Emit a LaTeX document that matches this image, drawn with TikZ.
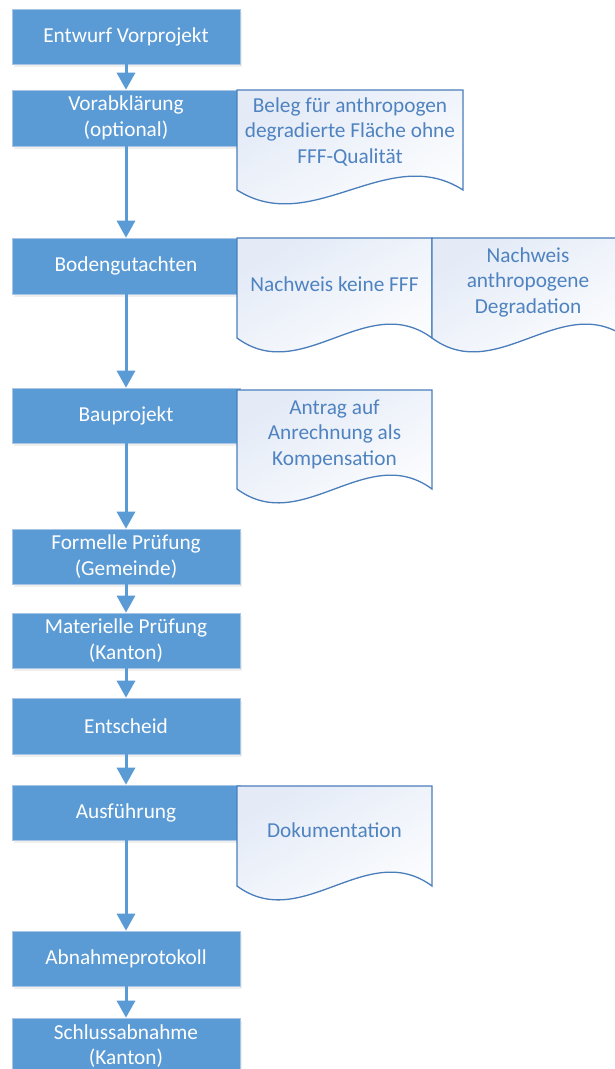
\documentclass[tikz,border=0pt]{standalone}
\usepackage{fontspec}
\setmainfont{Carlito}
\usetikzlibrary{arrows.meta,shadows}
\definecolor{boxblue}{HTML}{5B9BD5}
\definecolor{boxedge}{HTML}{A9C5E5}
\definecolor{docedge}{HTML}{4A7EBB}
\definecolor{doctxt}{HTML}{4F83C0}
\definecolor{docfill}{HTML}{E4EBF7}
\begin{document}
\begin{tikzpicture}[x=1pt,y=-1pt,
  procbox/.style={rectangle, fill=boxblue, draw=boxedge, line width=0.6pt,
    minimum width=228pt, minimum height=55pt, text=white, align=center,
    font=\fontsize{21.3}{25.5}\selectfont, inner sep=0pt,
    drop shadow={opacity=0.12, shadow xshift=1.5pt, shadow yshift=-2.5pt}},
  doclabel/.style={text=doctxt, align=center, font=\fontsize{21.3}{25.5}\selectfont, inner sep=0pt},
  docshape/.style={draw=docedge, line width=1.3pt, top color=docfill, bottom color=white, shading angle=30},
  flow/.style={draw=boxblue, line width=3pt, -{Triangle[width=18pt,length=17pt]}}
]
\useasboundingbox (0,0) rectangle (615,1069);
\clip (0,0) rectangle (615,1069);
\fill[white] (0,0) rectangle (615,1069);

% process boxes
\node[procbox] (b1) at (126,36.5) {Entwurf Vorprojekt};
\node[procbox, minimum height=56pt] (b2) at (126,118) {Vorabklärung\\(optional)};
\node[procbox, minimum height=56pt] (b3) at (126,266) {Bodengutachten};
\node[procbox] (b4) at (126,415.5) {Bauprojekt};
\node[procbox] (b5) at (126,556.5) {Formelle Prüfung\\(Gemeinde)};
\node[procbox] (b6) at (126,640.5) {Materielle Prüfung\\(Kanton)};
\node[procbox, minimum height=56pt] (b7) at (126,726) {Entscheid};
\node[procbox] (b8) at (126,812.5) {Ausführung};
\node[procbox] (b9) at (126,958.5) {Abnahmeprotokoll};
\node[procbox, minimum height=56pt] (b10) at (126,1046) {Schlussabnahme\\(Kanton)};

% connectors
\draw[flow] (b1) -- (b2);
\draw[flow] (b2) -- (b3);
\draw[flow] (b3) -- (b4);
\draw[flow] (b4) -- (b5);
\draw[flow] (b5) -- (b6);
\draw[flow] (b6) -- (b7);
\draw[flow] (b7) -- (b8);
\draw[flow] (b8) -- (b9);
\draw[flow] (b9) -- (b10);

% documents
\path[docshape] (237,90) -- (463,90) -- (463,190)
  .. controls (388.3,142) and (312.3,238) .. (237,190) -- cycle;
\node[doclabel] (d1) at (350,132) {Beleg für anthropogen\\degradierte Fläche ohne\\FFF-Qualität};

\path[docshape] (237,238) -- (432,238) -- (432,338)
  .. controls (367,290) and (302,386) .. (237,338) -- cycle;
\node[doclabel] (d2) at (334.5,284) {Nachweis keine FFF};

\path[docshape] (432,238) -- (627,238) -- (627,338)
  .. controls (562,290) and (497,386) .. (432,338) -- cycle;
\node[doclabel] (d3) at (528,282) {Nachweis\\anthropogene\\Degradation};

\path[docshape] (237,390) -- (432,390) -- (432,489)
  .. controls (367,441) and (302,537) .. (237,489) -- cycle;
\node[doclabel] (d4) at (334.5,434) {Antrag auf\\Anrechnung als\\Kompensation};

\path[docshape] (237,786) -- (432,786) -- (432,886)
  .. controls (367,838) and (302,934) .. (237,886) -- cycle;
\node[doclabel] (d5) at (334.5,830) {Dokumentation};
\end{tikzpicture}
\end{document}
